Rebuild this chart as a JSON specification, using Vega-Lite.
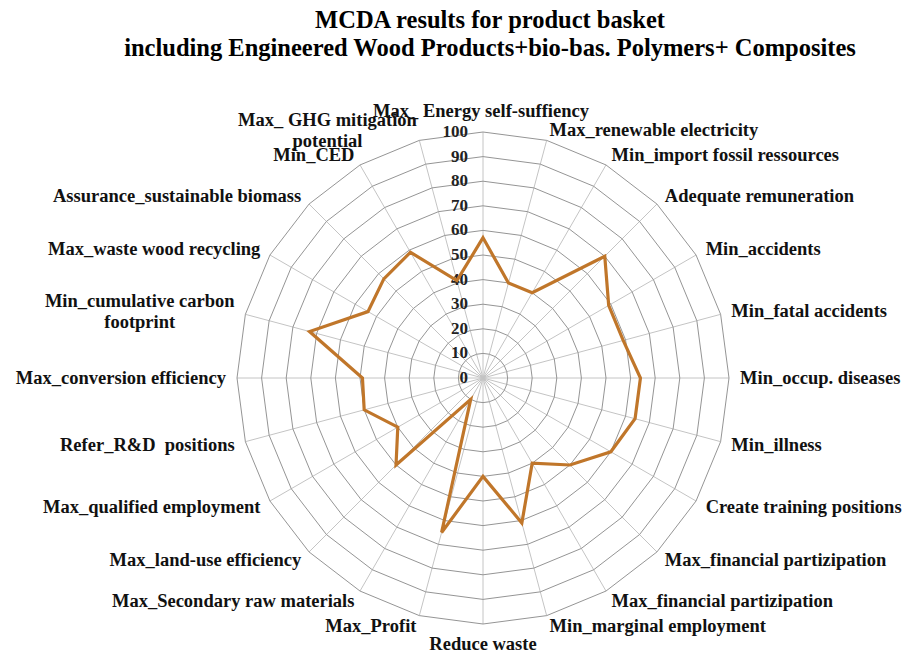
{
  "$schema": "https://vega.github.io/schema/vega-lite/v6.json",
  "width": 492,
  "height": 492,
  "autosize": {"type": "none"},
  "padding": {"left": 237, "top": 132, "right": 175, "bottom": 31},
  "background": "white",
  "config": {"view": {"stroke": null}, "font": "Liberation Serif"},
  "title": {
    "text": ["MCDA results for product basket", "including Engineered Wood Products+bio-bas. Polymers+ Composites"],
    "font": "Liberation Serif",
    "fontSize": 24.5,
    "fontWeight": "bold",
    "color": "#000000",
    "anchor": "middle",
    "frame": "group",
    "offset": 40,
    "lineHeight": 28,
    "dx": 7
  },
  "datasets": {
    "criteria": [
      {"i": 0, "criterion": "Max_ Energy self-suffiency", "score": 57},
      {"i": 1, "criterion": "Max_renewable electricity", "score": 40},
      {"i": 2, "criterion": "Min_import fossil ressources", "score": 40},
      {"i": 3, "criterion": "Adequate remuneration", "score": 70},
      {"i": 4, "criterion": "Min_accidents", "score": 59},
      {"i": 5, "criterion": "Min_fatal accidents", "score": 59},
      {"i": 6, "criterion": "Min_occup. diseases", "score": 64},
      {"i": 7, "criterion": "Min_illness", "score": 64},
      {"i": 8, "criterion": "Create training positions", "score": 60},
      {"i": 9, "criterion": "Max_financial partizipation", "score": 50},
      {"i": 10, "criterion": "Max_financial partizipation", "score": 40},
      {"i": 11, "criterion": "Min_marginal employment", "score": 61},
      {"i": 12, "criterion": "Reduce waste", "score": 40},
      {"i": 13, "criterion": "Max_Profit", "score": 65},
      {"i": 14, "criterion": "Max_Secondary raw materials", "score": 10},
      {"i": 15, "criterion": "Max_land-use efficiency", "score": 50},
      {"i": 16, "criterion": "Max_qualified employment", "score": 40},
      {"i": 17, "criterion": "Refer_R&D\u00a0 positions", "score": 50},
      {"i": 18, "criterion": "Max_conversion efficiency", "score": 49},
      {"i": 19, "criterion": "Min_cumulative carbon\nfootprint", "score": 73},
      {"i": 20, "criterion": "Max_waste wood recycling", "score": 54},
      {"i": 21, "criterion": "Assurance_sustainable biomass", "score": 57},
      {"i": 22, "criterion": "Min_CED", "score": 59},
      {"i": 23, "criterion": "Max_ GHG mitigation\npotential", "score": 41}
    ],
    "levels": [
      {"level": 0}, {"level": 10}, {"level": 20}, {"level": 30}, {"level": 40}, {"level": 50},
      {"level": 60}, {"level": 70}, {"level": 80}, {"level": 90}, {"level": 100}
    ]
  },
  "layer": [
    {
      "data": {"name": "criteria"},
      "transform": [
        {"calculate": "datum.i * PI / 12", "as": "theta"},
        {"calculate": "0", "as": "cx"},
        {"calculate": "100 * sin(datum.theta)", "as": "sx"},
        {"calculate": "100 * cos(datum.theta)", "as": "sy"}
      ],
      "mark": {"type": "rule", "color": "#c4c4c4", "strokeWidth": 1},
      "encoding": {
        "x": {"field": "cx", "type": "quantitative", "scale": {"domain": [-100, 100], "nice": false}, "axis": null},
        "y": {"field": "cx", "type": "quantitative", "scale": {"domain": [-100, 100], "nice": false}, "axis": null},
        "x2": {"field": "sx"},
        "y2": {"field": "sy"}
      }
    },
    {
      "data": {"name": "criteria"},
      "transform": [
        {"calculate": "[10,20,30,40,50,60,70,80,90,100]", "as": "ring"},
        {"flatten": ["ring"]},
        {"calculate": "datum.i * PI / 12", "as": "theta"},
        {"calculate": "datum.ring * sin(datum.theta)", "as": "gx"},
        {"calculate": "datum.ring * cos(datum.theta)", "as": "gy"}
      ],
      "mark": {"type": "line", "interpolate": "linear-closed", "color": "#959595", "strokeWidth": 1},
      "encoding": {
        "x": {"field": "gx", "type": "quantitative"},
        "y": {"field": "gy", "type": "quantitative"},
        "detail": {"field": "ring", "type": "nominal"},
        "order": {"field": "i", "type": "quantitative"}
      }
    },
    {
      "data": {"name": "levels"},
      "transform": [{"calculate": "0", "as": "cx"}],
      "mark": {"type": "text", "align": "right", "baseline": "middle", "dx": -15, "fontSize": 17, "fontWeight": "bold", "font": "Liberation Serif", "color": "#222222"},
      "encoding": {
        "x": {"field": "cx", "type": "quantitative"},
        "y": {"field": "level", "type": "quantitative"},
        "text": {"field": "level", "type": "quantitative"}
      }
    },
    {
      "data": {"name": "criteria"},
      "transform": [
        {"calculate": "datum.i * PI / 12", "as": "theta"},
        {"calculate": "datum.score * sin(datum.theta)", "as": "px"},
        {"calculate": "datum.score * cos(datum.theta)", "as": "py"}
      ],
      "mark": {"type": "line", "interpolate": "linear-closed", "color": "#c0762a", "strokeWidth": 3.2, "strokeJoin": "miter"},
      "encoding": {
        "x": {"field": "px", "type": "quantitative"},
        "y": {"field": "py", "type": "quantitative"},
        "order": {"field": "i", "type": "quantitative"}
      }
    },
    {
      "data": {"name": "criteria"},
      "transform": [
        {"filter": "datum.i >= 1 && datum.i <= 11"},
        {"calculate": "datum.i * PI / 12", "as": "theta"},
        {"calculate": "104.5 * sin(datum.theta)", "as": "lx"},
        {"calculate": "104.5 * cos(datum.theta)", "as": "ly"}
      ],
      "mark": {"type": "text", "align": "left", "baseline": "middle", "fontSize": 18.5, "fontWeight": "bold", "font": "Liberation Serif", "color": "#111111"},
      "encoding": {
        "x": {"field": "lx", "type": "quantitative"},
        "y": {"field": "ly", "type": "quantitative"},
        "text": {"field": "criterion", "type": "nominal"}
      }
    },
    {
      "data": {"name": "criteria"},
      "transform": [
        {"filter": "datum.i >= 13 && datum.i != 19 && datum.i != 23"},
        {"calculate": "datum.i * PI / 12", "as": "theta"},
        {"calculate": "104.5 * sin(datum.theta)", "as": "lx"},
        {"calculate": "104.5 * cos(datum.theta)", "as": "ly"}
      ],
      "mark": {"type": "text", "align": "right", "baseline": "middle", "fontSize": 18.5, "fontWeight": "bold", "font": "Liberation Serif", "color": "#111111"},
      "encoding": {
        "x": {"field": "lx", "type": "quantitative"},
        "y": {"field": "ly", "type": "quantitative"},
        "text": {"field": "criterion", "type": "nominal"}
      }
    },
    {
      "data": {"name": "criteria"},
      "transform": [
        {"filter": "datum.i == 0"},
        {"calculate": "datum.i * PI / 12", "as": "theta"},
        {"calculate": "104.5 * sin(datum.theta)", "as": "lx"},
        {"calculate": "104.5 * cos(datum.theta)", "as": "ly"}
      ],
      "mark": {"type": "text", "align": "center", "baseline": "bottom", "dx": -2, "fontSize": 18.5, "fontWeight": "bold", "font": "Liberation Serif", "color": "#111111"},
      "encoding": {
        "x": {"field": "lx", "type": "quantitative"},
        "y": {"field": "ly", "type": "quantitative"},
        "text": {"field": "criterion", "type": "nominal"}
      }
    },
    {
      "data": {"name": "criteria"},
      "transform": [
        {"filter": "datum.i == 12"},
        {"calculate": "datum.i * PI / 12", "as": "theta"},
        {"calculate": "104.5 * sin(datum.theta)", "as": "lx"},
        {"calculate": "104.5 * cos(datum.theta)", "as": "ly"}
      ],
      "mark": {"type": "text", "align": "center", "baseline": "top", "fontSize": 18.5, "fontWeight": "bold", "font": "Liberation Serif", "color": "#111111"},
      "encoding": {
        "x": {"field": "lx", "type": "quantitative"},
        "y": {"field": "ly", "type": "quantitative"},
        "text": {"field": "criterion", "type": "nominal"}
      }
    },
    {
      "data": {"name": "criteria"},
      "transform": [
        {"filter": "datum.i == 19"},
        {"calculate": "datum.i * PI / 12", "as": "theta"},
        {"calculate": "104.5 * sin(datum.theta)", "as": "lx"},
        {"calculate": "104.5 * cos(datum.theta)", "as": "ly"}
      ],
      "mark": {"type": "text", "align": "center", "baseline": "middle", "dx": -95, "dy": -10, "lineBreak": "\n", "lineHeight": 21, "fontSize": 18.5, "fontWeight": "bold", "font": "Liberation Serif", "color": "#111111"},
      "encoding": {
        "x": {"field": "lx", "type": "quantitative"},
        "y": {"field": "ly", "type": "quantitative"},
        "text": {"field": "criterion", "type": "nominal"}
      }
    },
    {
      "data": {"name": "criteria"},
      "transform": [
        {"filter": "datum.i == 23"},
        {"calculate": "datum.i * PI / 12", "as": "theta"},
        {"calculate": "104.5 * sin(datum.theta)", "as": "lx"},
        {"calculate": "104.5 * cos(datum.theta)", "as": "ly"}
      ],
      "mark": {"type": "text", "align": "center", "baseline": "middle", "dx": -89, "dy": -10, "lineBreak": "\n", "lineHeight": 21, "fontSize": 18.5, "fontWeight": "bold", "font": "Liberation Serif", "color": "#111111"},
      "encoding": {
        "x": {"field": "lx", "type": "quantitative"},
        "y": {"field": "ly", "type": "quantitative"},
        "text": {"field": "criterion", "type": "nominal"}
      }
    }
  ]
}
